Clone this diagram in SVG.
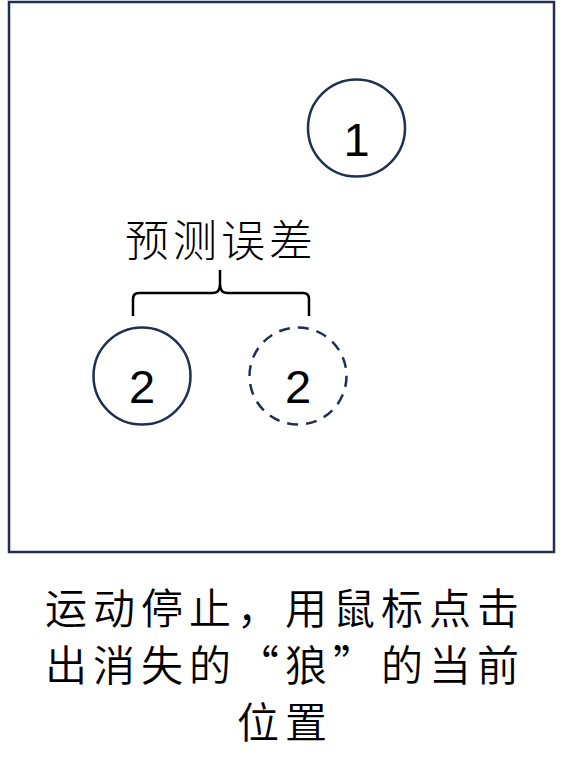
<svg xmlns="http://www.w3.org/2000/svg" width="563" height="772" viewBox="0 0 563 772">
  <style>
    .frame { fill: #ffffff; stroke: #1f3052; stroke-width: 2.5; }
    .node { fill: none; stroke: #1f3052; stroke-width: 2.5; }
    .ghost { stroke-dasharray: 11 8; }
    .num { font-family: "Liberation Sans", Arial, sans-serif; font-size: 47px; fill: #000; text-anchor: middle; }
    .label { font-family: "Noto Sans CJK SC", sans-serif; font-weight: 300; font-size: 44px; fill: #000; text-anchor: middle; letter-spacing: 4px; }
    .caption { font-family: "Noto Sans CJK SC", sans-serif; font-weight: 350; font-size: 42px; fill: #000; text-anchor: middle; letter-spacing: 6px; }
    .brace { fill: none; stroke: #000; stroke-width: 2.5; }
  </style>
  <rect width="563" height="772" fill="#ffffff"/>
  <rect class="frame" x="9" y="2" width="545" height="550"/>

  <g id="wolf1">
    <circle class="node" cx="356.5" cy="128" r="48.5"/>
    <text class="num" x="356.5" y="156">1</text>
  </g>

  <g id="wolf2-actual">
    <circle class="node" cx="142" cy="376" r="48.5"/>
    <text class="num" x="142" y="403">2</text>
  </g>

  <g id="wolf2-click">
    <circle class="node ghost" cx="298" cy="376" r="48.5"/>
    <text class="num" x="298" y="403">2</text>
  </g>

  <g id="error-label">
    <text class="label" x="221" y="257">预测误差</text>
  </g>

  <g id="connectors">
    <path class="brace" d="M133,316 V299 Q133,293 139,293 H213 Q220,293 220,284 V270 M220,284 Q220,293 227,293 H303 Q309,293 309,299 V316"/>
  </g>

  <g id="caption">
    <text class="caption" x="285" y="624">运动停止，用鼠标点击</text>
    <text class="caption" x="285" y="681">出消失的“狼”的当前</text>
    <text class="caption" x="285" y="738">位置</text>
  </g>
</svg>
